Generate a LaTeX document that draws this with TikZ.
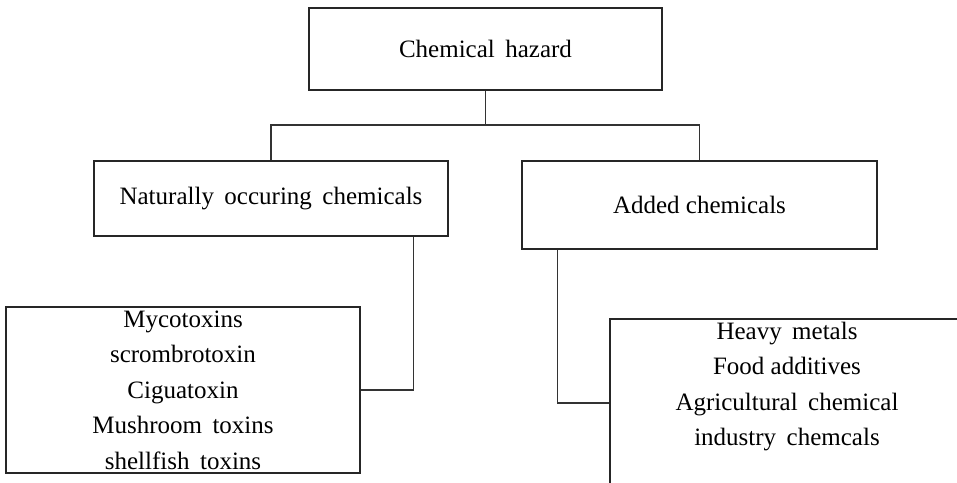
\documentclass[tikz,border=0pt]{standalone}
\usepackage{fontspec}
\setmainfont{Liberation Serif}
\newcommand\gap{\hspace{0.42em}}
\begin{document}
\begin{tikzpicture}[x=1pt,y=-1pt,
  box/.style={draw=black!85,line width=1.3pt,rectangle,inner sep=0pt,align=center,
    font=\fontsize{25}{35.5}\selectfont},
  txt/.style={inner sep=0pt,align=center,font=\fontsize{25}{35.5}\selectfont},
  conn/.style={draw=black!80,line width=1.4pt}]
\useasboundingbox (0,0) rectangle (957,482);
\clip (0,0) rectangle (957,482);
\node[box,minimum width=353pt,minimum height=82pt] (top) at (485.5,49) {Chemical\gap hazard};
\node[box,minimum width=354pt,minimum height=75pt] (nat) at (271,198.5) {Naturally\gap occuring\gap chemicals};
\node[box,minimum width=355pt,minimum height=88pt] (add) at (699.5,205) {Added chemicals};
\node[box,minimum width=354pt,minimum height=166pt] (bl) at (183,390)
  {Mycotoxins\\scrombrotoxin\\Ciguatoxin\\Mushroom\gap toxins\\shellfish\gap toxins};
\node[box,minimum width=360pt,minimum height=168pt] (br) at (790,403) {};
\node[txt,anchor=north] (brt) at ([yshift=-3.5pt]br.north -| 787,0)
  {Heavy\gap metals\\Food additives\\Agricultural\gap chemical\\industry\gap chemcals};
\coordinate (j) at (485.5,125);
\draw[conn] (top.south) -- (j);
\draw[conn] (nat.north) |- (j) -| (add.north);
\draw[conn] ([xshift=-35pt]nat.south east) |- (bl.east);
\draw[conn] ([xshift=36pt]add.south west) |- (br.west);
\end{tikzpicture}
\end{document}
